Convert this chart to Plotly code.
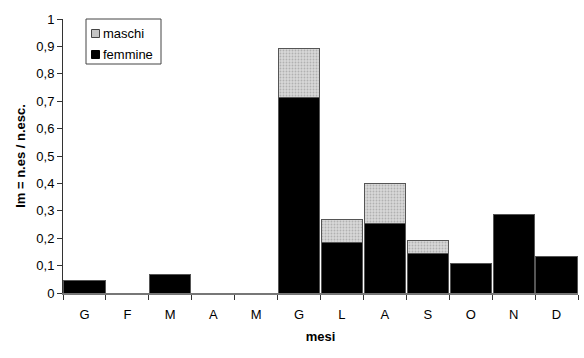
import plotly.graph_objects as go

mesi = ["G", "F", "M", "A", "M", "G", "L", "A", "S", "O", "N", "D"]
femmine = [0.047, 0, 0.068, 0, 0, 0.712, 0.184, 0.253, 0.145, 0.106, 0.287, 0.132]
maschi = [0, 0, 0, 0, 0, 0.182, 0.086, 0.147, 0.045, 0, 0, 0]
yticks = [i / 10 for i in range(11)]
yticktext = ["0", "0,1", "0,2", "0,3", "0,4", "0,5", "0,6", "0,7", "0,8", "0,9", "1"]

x = list(range(len(mesi)))

# plot area in pixels
L, R, T, B = 63, 578, 19, 293
def px(X):
    return (X - L) / (R - L)
def py(Y):
    return (B - Y) / (B - T)

fig = go.Figure()
fig.add_trace(go.Bar(
    x=x, y=femmine, name="femmine", showlegend=False,
    marker=dict(color="black", line=dict(color="#555", width=1)),
))
fig.add_trace(go.Bar(
    x=x, y=maschi, name="maschi", showlegend=False,
    marker=dict(color="#d0d0d0", line=dict(color="#555", width=1),
                pattern=dict(shape=".", fgcolor="#8a8a8a", bgcolor="#d8d8d8", size=3, solidity=0.3)),
))

# manual legend
shapes = [
    dict(type="rect", xref="paper", yref="paper", x0=px(86), x1=px(161), y0=py(64), y1=py(19),
         line=dict(color="#444", width=1), fillcolor="white", layer="above"),
    dict(type="rect", xref="paper", yref="paper", x0=px(91.5), x1=px(99.5), y0=py(37.5), y1=py(29.5),
         line=dict(color="#444", width=1), fillcolor="#c4c4c4", layer="above"),
    dict(type="rect", xref="paper", yref="paper", x0=px(91.5), x1=px(99.5), y0=py(58.5), y1=py(50.5),
         line=dict(color="black", width=1), fillcolor="black", layer="above"),
]
annotations = [
    dict(xref="paper", yref="paper", x=px(101), y=py(33.5), text="maschi", showarrow=False,
         xanchor="left", yanchor="middle", font=dict(size=13)),
    dict(xref="paper", yref="paper", x=px(101), y=py(54.5), text="femmine", showarrow=False,
         xanchor="left", yanchor="middle", font=dict(size=13)),
]

fig.update_layout(
    barmode="stack",
    bargap=0.04,
    width=584, height=358,
    margin=dict(l=L, r=584 - R, t=T, b=358 - B),
    paper_bgcolor="white", plot_bgcolor="white",
    font=dict(family="Liberation Sans, Arial, sans-serif", size=13, color="black"),
    shapes=shapes, annotations=annotations,
    showlegend=False,
)
fig.update_xaxes(
    range=[-0.5, 11.5],
    tickvals=x, ticktext=mesi, ticks="", ticklen=0, ticklabelstandoff=8,
    showline=True, linecolor="#777", linewidth=2,
    showgrid=False, zeroline=False,
    minor=dict(tickvals=[i + 0.5 for i in range(-1, 12)], ticks="outside", ticklen=5, tickcolor="#333", showgrid=False),
    title=dict(text="<b>mesi</b>", standoff=11, font=dict(size=13)),
    tickfont=dict(size=13),
)
fig.update_yaxes(
    range=[0, 1],
    ticks="outside", ticklen=5, tickcolor="#333",
    showline=True, linecolor="#333", linewidth=1,
    showgrid=False, zeroline=False,
    tickvals=yticks, ticktext=yticktext,
    tickfont=dict(size=13),
    title=dict(text="<b>Im = n.es / n.esc.</b>", standoff=7, font=dict(size=13)),
)

fig.write_html("out.html", config={"displayModeBar": False},
               post_script="document.body.style.margin='0';document.body.style.overflow='hidden';")
